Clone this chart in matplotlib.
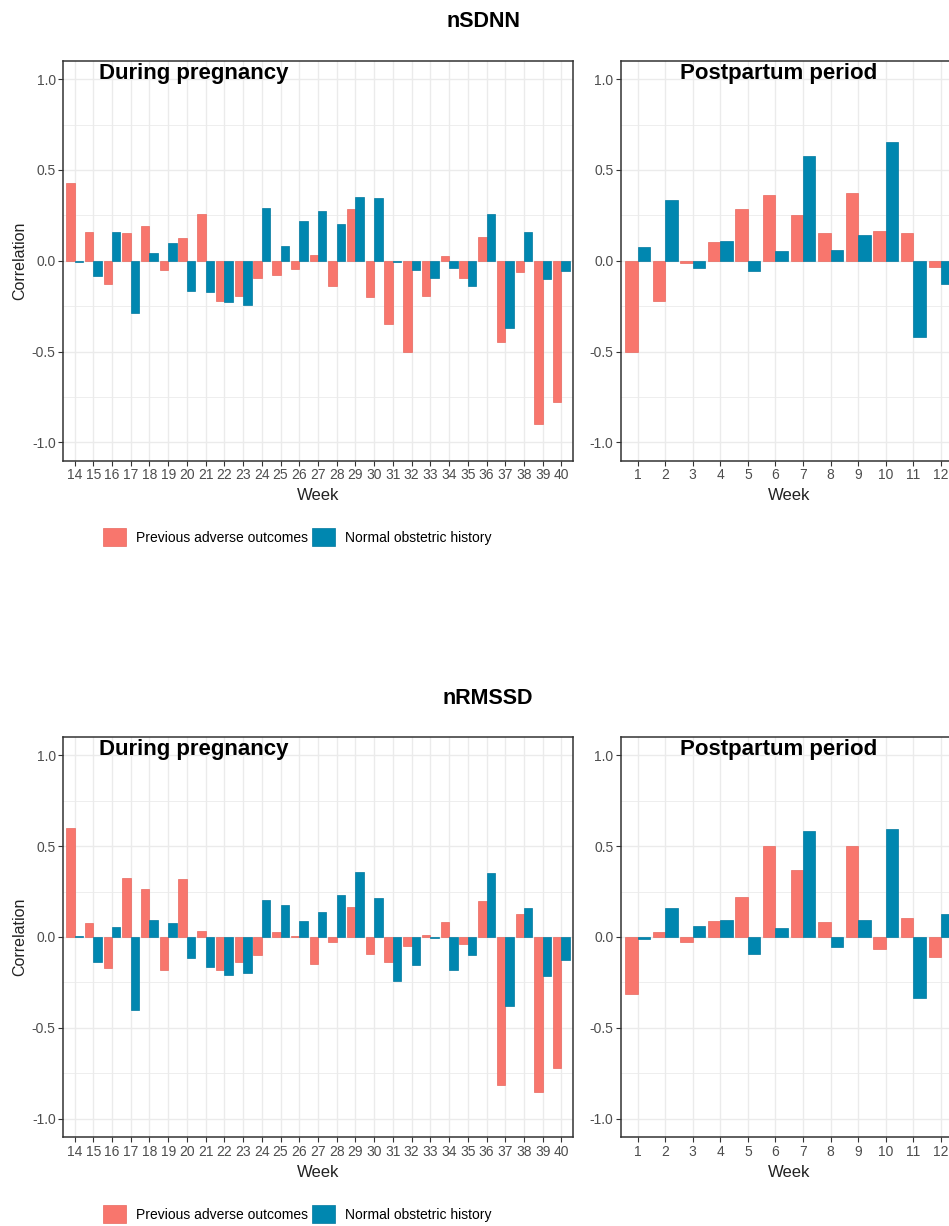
import numpy as np
import matplotlib.pyplot as plt
from matplotlib.ticker import MultipleLocator

plt.rcParams['font.family'] = ['Liberation Sans', 'DejaVu Sans']

# weeks
weeks_preg = list(range(14, 41))
weeks_post = list(range(1, 13))

# nSDNN, during pregnancy
sdnn_preg_adv = [0.426, 0.158, -0.127, 0.153, 0.19, -0.051, 0.127, 0.259, -0.22, -0.195,
                 -0.096, -0.077, -0.046, 0.033, -0.14, 0.283, -0.202, -0.351, -0.5, -0.195,
                 0.028, -0.096, 0.132, -0.45, -0.064, -0.90, -0.776]
sdnn_preg_norm = [-0.005, -0.085, 0.158, -0.29, 0.04, 0.10, -0.165, -0.171, -0.228, -0.241,
                  0.289, 0.083, 0.221, 0.276, 0.202, 0.353, 0.346, -0.005, -0.051, -0.096,
                  -0.04, -0.14, 0.259, -0.371, 0.158, -0.101, -0.059]
# nSDNN, postpartum
sdnn_post_adv = [-0.5, -0.22, -0.01, 0.101, 0.283, 0.364, 0.252, 0.153, 0.371, 0.165, 0.153, -0.033]
sdnn_post_norm = [0.075, 0.333, -0.04, 0.108, -0.059, 0.051, 0.575, 0.059, 0.14, 0.656, -0.419, -0.129]

# nRMSSD, during pregnancy
rmssd_preg_adv = [0.601, 0.076, -0.172, 0.327, 0.264, -0.183, 0.319, 0.031, -0.183, -0.135,
                  -0.098, 0.026, 0.007, -0.148, -0.03, 0.164, -0.092, -0.14, -0.048, 0.013,
                  0.081, -0.041, 0.196, -0.812, 0.125, -0.854, -0.718]
rmssd_preg_norm = [0.007, -0.14, 0.057, -0.404, 0.094, 0.076, -0.116, -0.166, -0.21, -0.197,
                   0.201, 0.175, 0.089, 0.138, 0.232, 0.358, 0.212, -0.242, -0.153, -0.006,
                   -0.179, -0.098, 0.352, -0.378, 0.157, -0.216, -0.129]
# nRMSSD, postpartum
rmssd_post_adv = [-0.316, 0.026, -0.03, 0.089, 0.22, 0.5, 0.369, 0.081, 0.5, -0.066, 0.107, -0.111]
rmssd_post_norm = [-0.011, 0.162, 0.063, 0.094, -0.092, 0.05, 0.583, -0.055, 0.094, 0.596, -0.336, 0.125]

red = '#F8766D'
blue = '#0087B0'
W, H = 949, 1226

fig = plt.figure(figsize=(W / 100, H / 100), dpi=100)


def px_axes(left, right, top, bottom):
    return fig.add_axes([left / W, 1 - bottom / H, (right - left) / W, (bottom - top) / H])


def panel(ax, weeks, adv, norm, title, tx):
    x = np.array(weeks)
    ax.bar(x - 0.225, adv, width=0.45, color=red, edgecolor='#E8675E', linewidth=0.5, zorder=3,
           label='Previous adverse outcomes')
    ax.bar(x + 0.225, norm, width=0.45, color=blue, edgecolor='#00789E', linewidth=0.5, zorder=3,
           label='Normal obstetric history')
    ax.set_xlim(weeks[0] - 0.6, weeks[-1] + 0.6)
    ax.set_ylim(-1.1, 1.1)
    ax.set_xticks(weeks)
    ax.set_yticks([-1.0, -0.5, 0.0, 0.5, 1.0])
    ax.set_yticklabels(['-1.0', '-0.5', '0.0', '0.5', '1.0'])
    ax.yaxis.set_minor_locator(MultipleLocator(0.25))
    ax.grid(True, which='major', color='#EBEBEB', linewidth=1.0, zorder=0)
    ax.grid(True, which='minor', axis='y', color='#EBEBEB', linewidth=0.6, zorder=0)
    ax.set_axisbelow(True)
    ax.tick_params(axis='both', which='major', length=3.5, width=0.8, color='#333333',
                   labelsize=10, labelcolor='#4D4D4D', pad=2)
    ax.tick_params(axis='y', which='minor', length=0)
    for s in ax.spines.values():
        s.set_color('#333333')
        s.set_linewidth(1.1)
    ax.text(tx, 0.954, title, transform=ax.transAxes, fontsize=16, fontweight='bold',
            ha='left', va='baseline', zorder=5)


ax1 = px_axes(63.3, 572.7, 61, 460.5)
panel(ax1, weeks_preg, sdnn_preg_adv, sdnn_preg_norm, 'During pregnancy', 0.071)
ax2 = px_axes(621, 957.5, 61, 460.5)
panel(ax2, weeks_post, sdnn_post_adv, sdnn_post_norm, 'Postpartum period', 0.175)
ax3 = px_axes(63.3, 572.7, 737, 1137)
panel(ax3, weeks_preg, rmssd_preg_adv, rmssd_preg_norm, 'During pregnancy', 0.071)
ax4 = px_axes(621, 957.5, 737, 1137)
panel(ax4, weeks_post, rmssd_post_adv, rmssd_post_norm, 'Postpartum period', 0.175)

# figure titles
fig.text(484 / W, 1 - 27 / H, 'nSDNN', fontsize=15.5, fontweight='bold', ha='center', va='baseline')
fig.text(488 / W, 1 - 704 / H, 'nRMSSD', fontsize=15.5, fontweight='bold', ha='center', va='baseline')

# axis labels
for yc in [260.5, 937]:
    fig.text(20 / W, 1 - yc / H, 'Correlation', rotation=90, fontsize=11.5, color='#222222',
             ha='center', va='center')
for yb in [500, 1177]:
    fig.text(318 / W, 1 - yb / H, 'Week', fontsize=12, color='#222222', ha='center', va='baseline')
    fig.text(789 / W, 1 - yb / H, 'Week', fontsize=12, color='#222222', ha='center', va='baseline')

# legends
handles, labels = ax1.get_legend_handles_labels()
for ytop in [528, 1205]:
    fig.legend(handles, labels, loc='upper left', bbox_to_anchor=(103 / W, 1 - ytop / H), ncol=2,
               frameon=False, fontsize=10, handlelength=1.69, handleheight=1.66,
               handletextpad=0.68, columnspacing=0.29, borderpad=0, borderaxespad=0)

fig.savefig('out.png', dpi=100)
